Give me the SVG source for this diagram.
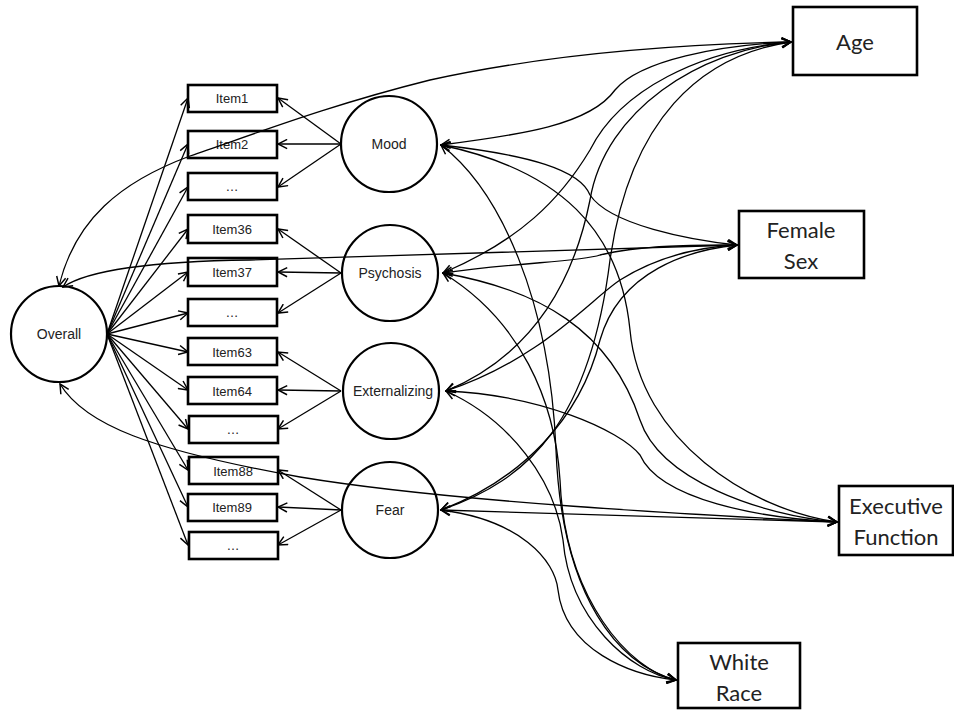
<svg xmlns="http://www.w3.org/2000/svg" width="954" height="711" viewBox="0 0 954 711">
<defs>
<marker id="ah" viewBox="0 0 12 12" refX="11" refY="6" markerWidth="11" markerHeight="11" markerUnits="userSpaceOnUse" orient="auto-start-reverse">
<path d="M1,1 L11,6 L1,11" fill="none" stroke="#000" stroke-width="1.6"/>
</marker>
</defs>
<style>
.box{fill:#fff;stroke:#000;stroke-width:2.6}
.circ{fill:#fff;stroke:#000;stroke-width:2.2}
.t{font-family:"Liberation Sans",Arial,sans-serif;font-size:13px;fill:#222;text-anchor:middle}
.c{font-family:"Liberation Sans",Arial,sans-serif;font-size:14px;fill:#222;text-anchor:middle}
.big{font-family:Lato,"Open Sans",sans-serif;font-size:22px;fill:#222;text-anchor:middle}
.ln{fill:none;stroke:#000;stroke-width:1.3;marker-end:url(#ah)}
.cv{fill:none;stroke:#000;stroke-width:1.3;marker-start:url(#ah);marker-end:url(#ah)}
</style>
<rect width="954" height="711" fill="#fff"/>
<g id="item1"><rect class="box" x="188" y="85" width="89" height="27"/><text class="t" x="232" y="103">Item1</text></g>
<g id="item2"><rect class="box" x="188" y="131" width="89" height="27"/><text class="t" x="232" y="149">Item2</text></g>
<g id="item-dots1"><rect class="box" x="188" y="173" width="89" height="27"/><text class="t" x="232" y="191">…</text></g>
<g id="item36"><rect class="box" x="188" y="215" width="89" height="28"/><text class="t" x="232" y="234">Item36</text></g>
<g id="item37"><rect class="box" x="188" y="258" width="89" height="28"/><text class="t" x="232" y="277">Item37</text></g>
<g id="item-dots2"><rect class="box" x="188" y="299" width="89" height="27"/><text class="t" x="232" y="317">…</text></g>
<g id="item63"><rect class="box" x="188" y="338" width="89" height="27"/><text class="t" x="232" y="357">Item63</text></g>
<g id="item64"><rect class="box" x="188" y="377" width="89" height="27"/><text class="t" x="232" y="396">Item64</text></g>
<g id="item-dots3"><rect class="box" x="189" y="416" width="89" height="27"/><text class="t" x="233" y="434">…</text></g>
<g id="item88"><rect class="box" x="189" y="457" width="89" height="27"/><text class="t" x="233" y="476">Item88</text></g>
<g id="item89"><rect class="box" x="188" y="494" width="89" height="27"/><text class="t" x="232" y="512">Item89</text></g>
<g id="item-dots4"><rect class="box" x="189" y="532" width="89" height="27"/><text class="t" x="233" y="550">…</text></g>
<g id="overall"><circle class="circ" cx="59" cy="334" r="48"/><text class="c" x="59" y="339">Overall</text></g>
<g id="mood"><circle class="circ" cx="389" cy="144" r="48"/><text class="c" x="389" y="149">Mood</text></g>
<g id="psychosis"><circle class="circ" cx="390" cy="273" r="48"/><text class="c" x="390" y="278">Psychosis</text></g>
<g id="externalizing"><circle class="circ" cx="391" cy="391" r="48"/><text class="c" x="393" y="396">Externalizing</text></g>
<g id="fear"><circle class="circ" cx="390" cy="510" r="48"/><text class="c" x="390" y="515">Fear</text></g>
<g id="age"><rect class="box" x="793" y="7" width="124" height="68"/><text class="big" x="855" y="50">Age</text></g>
<g id="female-sex"><rect class="box" x="739" y="211" width="125" height="67"/><text class="big" x="801" y="238">Female</text><text class="big" x="801" y="269">Sex</text></g>
<g id="executive-function"><rect class="box" x="839" y="486" width="114" height="69"/><text class="big" x="896" y="514">Executive</text><text class="big" x="896" y="545">Function</text></g>
<g id="white-race"><rect class="box" x="678" y="643" width="122" height="65"/><text class="big" x="739" y="670">White</text><text class="big" x="739" y="701">Race</text></g>
<g id="connectors">
<path class="ln" d="M107,334 L188,98"/>
<path class="ln" d="M107,334 L188,144"/>
<path class="ln" d="M107,334 L188,187"/>
<path class="ln" d="M107,334 L188,229"/>
<path class="ln" d="M107,334 L188,272"/>
<path class="ln" d="M107,334 L188,313"/>
<path class="ln" d="M107,334 L188,352"/>
<path class="ln" d="M107,334 L188,390"/>
<path class="ln" d="M107,334 L188,429"/>
<path class="ln" d="M107,334 L188,470"/>
<path class="ln" d="M107,334 L188,507"/>
<path class="ln" d="M107,334 L188,545"/>
<path class="ln" d="M341,144 L278,98"/>
<path class="ln" d="M341,144 L278,144"/>
<path class="ln" d="M341,144 L278,187"/>
<path class="ln" d="M341,273 L278,229"/>
<path class="ln" d="M341,273 L278,272"/>
<path class="ln" d="M341,273 L278,313"/>
<path class="ln" d="M341,391 L278,352"/>
<path class="ln" d="M341,391 L278,390"/>
<path class="ln" d="M341,391 L278,429"/>
<path class="ln" d="M341,510 L278,470"/>
<path class="ln" d="M341,510 L278,507"/>
<path class="ln" d="M341,510 L278,545"/>
<path class="cv" d="M59,286 C75,220 120,182 190,156 C260,132 330,105 430,80 C530,58 650,45 791,42"/>
<path class="cv" d="M63,287 Q100,262 250,260 L737,245"/>
<path class="cv" d="M60,384 C85,425 150,450 300,477 C450,502 700,515 837,522"/>
<path class="cv" d="M441,145 C520,135 590,125 615,90 C640,60 720,45 791,42"/>
<path class="cv" d="M441,145 C530,155 580,170 590,195 C610,225 690,240 737,245"/>
<path class="cv" d="M441,145 C560,170 620,230 630,330 C640,440 750,510 837,522"/>
<path class="cv" d="M441,145 C500,190 550,300 556,450 C562,600 620,665 676,680"/>
<path class="cv" d="M443,273 C520,240 560,200 590,150 C620,90 700,50 791,42"/>
<path class="cv" d="M443,273 C520,262 580,262 600,255 C640,245 700,245 737,245"/>
<path class="cv" d="M443,273 C540,290 610,330 640,420 C660,480 760,515 837,522"/>
<path class="cv" d="M443,273 C520,320 555,400 560,480 C565,600 630,670 676,680"/>
<path class="cv" d="M446,391 C520,360 570,300 590,200 C605,110 700,50 791,42"/>
<path class="cv" d="M446,391 C540,360 590,300 620,280 C660,255 700,247 737,245"/>
<path class="cv" d="M446,391 C540,395 620,430 640,455 C660,500 760,518 837,522"/>
<path class="cv" d="M446,391 C510,420 555,480 563,540 C570,620 630,672 676,680"/>
<path class="cv" d="M441,510 C530,480 590,420 610,260 C630,120 700,55 791,42"/>
<path class="cv" d="M441,510 C520,480 580,420 600,340 C620,270 690,250 737,245"/>
<path class="cv" d="M441,510 L837,522"/>
<path class="cv" d="M441,510 C520,520 555,560 558,590 C565,650 630,675 676,680"/>
</g>
</svg>
